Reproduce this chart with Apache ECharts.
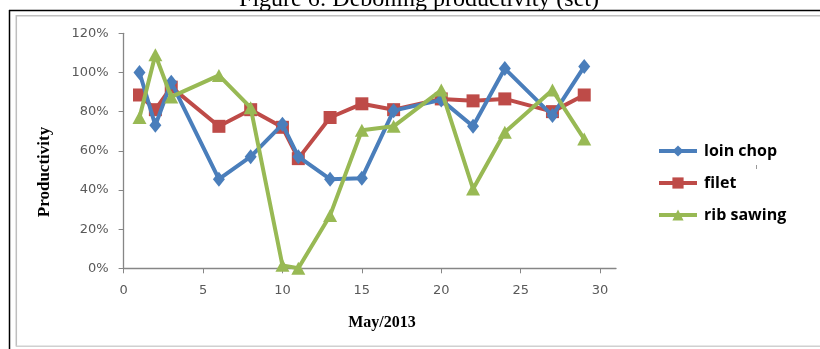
<!DOCTYPE html>
<html>
<head>
<meta charset="utf-8">
<script src="https://cdn.jsdelivr.net/npm/echarts@6/dist/echarts.min.js"></script>
<style>
html,body{margin:0;padding:0;background:#fff;}
#chart{width:820px;height:349px;}
</style>
</head>
<body>
<div id="chart"></div>
<script>
var days = [1, 2, 3, 6, 8, 10, 11, 13, 15, 17, 20, 22, 24, 27, 29];
var loinChop = [100, 73, 95, 45.5, 57, 73.5, 57, 45.5, 46, 80.5, 86, 72.5, 102, 78, 103];
var filet = [88.5, 81, 92.5, 72.5, 81, 72, 56, 77, 84, 81, 86.5, 85.5, 86.5, 80, 88.5];
var ribSawing = [77, 109, 87.5, 98.5, 82, 1.5, 0, 27, 70.5, 72.5, 91, 40.5, 69.5, 91, 66];
var xTicks = [0, 5, 10, 15, 20, 25, 30];
var seriesNames = ['loin chop', 'filet', 'rib sawing'];

function pairs(vals) {
  return days.map(function (d, i) { return [d, vals[i]]; });
}

var chart = echarts.init(document.getElementById('chart'), null, {renderer: 'canvas'});
var axisColor = '#868686';
var labelColor = '#595959';

chart.setOption({
  animation: false,
  backgroundColor: '#ffffff',
  grid: {left: 123.6, right: 204, top: 33.3, bottom: 80.7, containLabel: false},
  legend: {
    orient: 'vertical',
    left: 652,
    top: 138,
    itemWidth: 38,
    itemHeight: 14,
    itemGap: 16,
    data: seriesNames,
    lineStyle: {width: 4},
    textStyle: {fontFamily: 'Open Sans', fontWeight: 'bold', fontSize: 16, color: '#000', padding: [0, 0, 0, 2]}
  },
  xAxis: {
    type: 'value',
    min: 0, max: 31, interval: 5,
    splitLine: {show: false},
    axisLine: {show: true, lineStyle: {color: axisColor, width: 1.3}},
    axisTick: {show: true, inside: false, length: 5, lineStyle: {color: axisColor}, customValues: xTicks},
    axisLabel: {customValues: xTicks, margin: 16, fontFamily: 'DejaVu Sans', fontSize: 13, color: labelColor}
  },
  yAxis: {
    type: 'value',
    min: 0, max: 120, interval: 20,
    splitLine: {show: false},
    axisLine: {show: true, lineStyle: {color: axisColor, width: 1.3}},
    axisTick: {show: true, inside: false, length: 5, lineStyle: {color: axisColor}},
    axisLabel: {formatter: '{value}%', margin: 15, fontFamily: 'DejaVu Sans', fontSize: 13, color: labelColor}
  },
  series: [
    {name: seriesNames[0], type: 'line', data: pairs(loinChop), symbol: 'diamond', symbolSize: [12, 15],
     lineStyle: {width: 4, color: '#4A7EBB'}, itemStyle: {color: '#4A7EBB'}, z: 3},
    {name: seriesNames[1], type: 'line', data: pairs(filet), symbol: 'rect', symbolSize: 13,
     lineStyle: {width: 4, color: '#BE4B48'}, itemStyle: {color: '#BE4B48'}, z: 2},
    {name: seriesNames[2], type: 'line', data: pairs(ribSawing), symbol: 'triangle', symbolSize: [14, 13],
     lineStyle: {width: 4, color: '#98B954'}, itemStyle: {color: '#98B954'}, z: 4}
  ],
  graphic: [
    {type: 'line', shape: {x1: 9, y1: 10.5, x2: 820, y2: 10.5}, style: {stroke: '#000', lineWidth: 1.5}, silent: true},
    {type: 'line', shape: {x1: 9.5, y1: 10, x2: 9.5, y2: 349}, style: {stroke: '#000', lineWidth: 1.5}, silent: true},
    {type: 'line', shape: {x1: 16, y1: 15.8, x2: 820, y2: 15.8}, style: {stroke: '#BFBFBF', lineWidth: 1.5}, silent: true},
    {type: 'line', shape: {x1: 16.3, y1: 15, x2: 16.3, y2: 346.5}, style: {stroke: '#BFBFBF', lineWidth: 1.5}, silent: true},
    {type: 'line', shape: {x1: 16, y1: 346.3, x2: 820, y2: 346.3}, style: {stroke: '#D0D0D0', lineWidth: 1.5}, silent: true},
    {type: 'line', shape: {x1: 756.5, y1: 165, x2: 756.5, y2: 169}, style: {stroke: '#999', lineWidth: 1}, silent: true},
    {type: 'text', x: 419, y: 0, silent: true,
     style: {text: 'Figure 6: Deboning productivity (set)', fontFamily: 'Liberation Serif', fontSize: 24,
             fill: '#000', align: 'center', verticalAlign: 'middle'}},
    {type: 'text', x: 382, y: 323, silent: true,
     style: {text: 'May/2013', fontFamily: 'Liberation Serif', fontWeight: 'bold', fontSize: 16,
             fill: '#000', align: 'center', verticalAlign: 'middle'}},
    {type: 'text', x: 45, y: 172, rotation: Math.PI / 2, silent: true,
     style: {text: 'Productivity', fontFamily: 'Liberation Serif', fontWeight: 'bold', fontSize: 17,
             fill: '#000', align: 'center', verticalAlign: 'middle'}}
  ]
});
</script>
</body>
</html>
